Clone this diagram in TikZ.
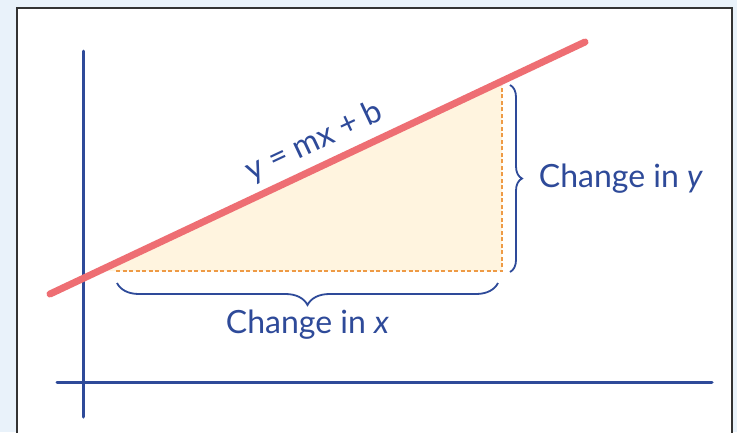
\documentclass[tikz,border=0pt]{standalone}
\usepackage{fontspec}
\setmainfont{Lato}
\usetikzlibrary{decorations.pathreplacing, calc}
\definecolor{inkblue}{HTML}{2E4A99}
\definecolor{linered}{HTML}{EE6E73}
\definecolor{dashorange}{HTML}{EE9A45}
\definecolor{fillcream}{HTML}{FFF4DF}
\definecolor{bgblue}{HTML}{E9F2FA}
\tikzstyle{axis} = [inkblue, line width=3pt, line cap=round]
\tikzstyle{slopeline} = [linered, line width=7pt, line cap=round]
\tikzstyle{legedge} = [dashorange, line width=1.6pt, dash pattern=on 4pt off 2.5pt]
\tikzstyle{bracebig} = [inkblue, line width=1.8pt, decorate]
\tikzstyle{label} = [inkblue, font=\fontsize{32}{36}\selectfont, inner sep=0pt]

\begin{document}
\begin{tikzpicture}[x=1pt, y=-1pt]
        \useasboundingbox (0,0) rectangle (737,432);
        % background and frame
        \fill[bgblue] (0,0) rectangle (737,432);
        \draw[fill=white, draw=black!80, line width=2pt] (17,8) rectangle (732,445);

        % corners of the triangle
        \coordinate (lineLeft) at (50,294);
        \coordinate (lineRight) at (585,42);
        \coordinate (legStart) at (116,271);
        \coordinate (corner) at (502,271);
        \coordinate (legTop) at (502,85);
        \fill[fillcream] (99,271) -- (corner) -- (502,81) -- cycle;
        \draw[legedge] (legStart) -- (corner) -- (legTop);

        % axes
        \coordinate (yTop) at (83,51);
        \coordinate (yBot) at (83,417);
        \coordinate (xLeft) at (57,382);
        \coordinate (xRight) at (712,382);
        \draw[axis] (yTop) -- (yBot);
        \draw[axis] (xLeft) -- (xRight);

        % the line
        \draw[slopeline] (lineLeft) -- (lineRight) coordinate[pos=0.514] (eqnFoot);
        \node[label, rotate=25.2, anchor=base] (eqn) at ($(eqnFoot)+(-6.8,-14.5)$) {y = mx + b};

        % braces
        \coordinate (dxStart) at (117,283);
        \coordinate (dxEnd) at (498,283);
        \draw[bracebig, decoration={brace, mirror, amplitude=22pt}] (dxStart) -- (dxEnd)
            node[midway, below=26pt, label] (dx) {Change in \itshape x};
        \coordinate (dyStart) at (510,85);
        \coordinate (dyEnd) at (510,272);
        \draw[bracebig, decoration={brace, amplitude=12pt}] (dyStart) -- (dyEnd)
            node[midway, right=28pt, label] (dy) {Change in \itshape y};
    \end{tikzpicture}
\end{document}
